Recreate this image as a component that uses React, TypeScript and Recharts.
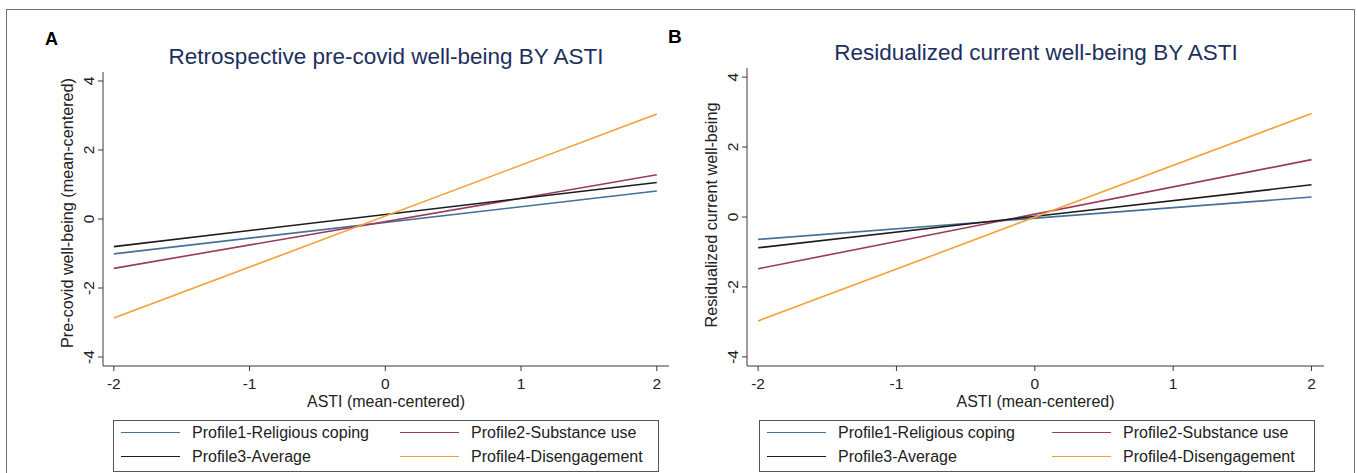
import React from 'react';
import { LineChart, Line, XAxis, YAxis } from 'recharts';

// x positions of the fitted lines (ASTI, mean-centered)
const astiValues = [-2, 2];
const xTicks = [-2, -1, 0, 1, 2];
const yTicks = [-4, -2, 0, 2, 4];

const profileNames = [
  'Profile1-Religious coping',
  'Profile2-Substance use',
  'Profile3-Average',
  'Profile4-Disengagement',
];
const profileKeys = ['p1', 'p2', 'p3', 'p4'];
const profileColors = ['#44709a', '#9a3a5c', '#1c1c1c', '#f5a035'];

// panel A: retrospective pre-covid well-being
const preProfile1 = [-1.01, 0.81];
const preProfile2 = [-1.43, 1.28];
const preProfile3 = [-0.8, 1.06];
const preProfile4 = [-2.87, 3.04];

// panel B: residualized current well-being
const resProfile1 = [-0.64, 0.57];
const resProfile2 = [-1.48, 1.64];
const resProfile3 = [-0.88, 0.92];
const resProfile4 = [-2.97, 2.96];

const buildRows = (series: number[][]) =>
  astiValues.map((x, i) => {
    const row: Record<string, number> = { x };
    profileKeys.forEach((k, j) => {
      row[k] = series[j][i];
    });
    return row;
  });

const rowsA = buildRows([preProfile1, preProfile2, preProfile3, preProfile4]);
const rowsB = buildRows([resProfile1, resProfile2, resProfile3, resProfile4]);

const FONT = '"Liberation Sans", Arial, sans-serif';
const AXIS = '#3a3a3a';

const YTick = (props: any) => {
  const { x, y, payload } = props;
  const bx = x - 2;
  return (
    <text
      x={bx}
      y={y}
      transform={`rotate(-90, ${bx}, ${y})`}
      textAnchor="middle"
      fontSize={15.5}
      fontFamily={FONT}
      fill="#222"
    >
      {payload.value}
    </text>
  );
};

const XTick = (props: any) => {
  const { x, y, payload } = props;
  return (
    <text x={x} y={y + 16} textAnchor="middle" fontSize={15.5} fontFamily={FONT} fill="#222">
      {payload.value}
    </text>
  );
};

interface PanelProps {
  left: number;
  width: number;
  margin: { top: number; right: number; bottom: number; left: number };
  rows: Record<string, number>[];
  yLabel: string;
  yLabelCenter: number;
}

const Panel = ({ left, width, margin, rows, yLabel, yLabelCenter }: PanelProps) => (
  <div style={{ position: 'absolute', left, top: 0 }}>
    <LineChart width={width} height={473} data={rows} margin={margin}>
      <XAxis
        dataKey="x"
        type="number"
        domain={[-2.08, 2.09]}
        ticks={xTicks}
        allowDataOverflow
        height={40}
        stroke={AXIS}
        tickSize={5}
        tick={<XTick />}
        label={(p: any) => {
          const vb = p.viewBox;
          return (
            <text
              x={vb.x + vb.width / 2}
              y={vb.y + 41}
              textAnchor="middle"
              fontSize={16.5}
              textLength={158}
              lengthAdjust="spacingAndGlyphs"
              fontFamily={FONT}
              fill="#222"
            >
              ASTI (mean-centered)
            </text>
          );
        }}
      />
      <YAxis
        type="number"
        domain={[-4.26, 4.26]}
        ticks={yTicks}
        allowDataOverflow
        width={60}
        stroke={AXIS}
        tickSize={5}
        tick={<YTick />}
        label={(p: any) => {
          const vb = p.viewBox;
          const cx = vb.x + vb.width - 30;
          const cy = yLabelCenter;
          return (
            <text
              x={cx}
              y={cy}
              transform={`rotate(-90, ${cx}, ${cy})`}
              textAnchor="middle"
              fontSize={16.2}
              fontFamily={FONT}
              fill="#222"
            >
              {yLabel}
            </text>
          );
        }}
      />
      {profileKeys.map((k, i) => (
        <Line
          key={k}
          type="linear"
          dataKey={k}
          stroke={profileColors[i]}
          strokeWidth={1.6}
          dot={false}
          isAnimationActive={false}
        />
      ))}
    </LineChart>
  </div>
);

const LegendBox = ({ left, width, col2 }: { left: number; width: number; col2: number }) => (
  <div
    style={{
      position: 'absolute',
      left,
      top: 420,
      width,
      height: 52,
      border: '1.5px solid #555',
      boxSizing: 'border-box',
      fontFamily: FONT,
      fontSize: 16,
      color: '#222',
    }}
  >
    {profileNames.map((name, i) => {
      const col = i % 2;
      const row = Math.floor(i / 2);
      const x0 = col === 0 ? 7 : col2;
      const yc = row === 0 ? 12 : 36;
      return (
        <React.Fragment key={name}>
          <div
            style={{
              position: 'absolute',
              left: x0,
              top: yc - 1,
              width: 59,
              height: 0,
              borderTop: `1.6px solid ${profileColors[i]}`,
            }}
          />
          <div style={{ position: 'absolute', left: x0 + 71, top: yc - 10, whiteSpace: 'nowrap', lineHeight: '20px' }}>
            {name}
          </div>
        </React.Fragment>
      );
    })}
  </div>
);

const textStyle: React.CSSProperties = { position: 'absolute', fontFamily: FONT, whiteSpace: 'nowrap', lineHeight: '26px' };

export default function App() {
  return (
    <div style={{ position: 'absolute', left: 0, top: 0, width: 1357, height: 473, overflow: 'hidden', background: '#fff' }}>
      <div
        style={{
          position: 'absolute',
          left: 6,
          top: 9,
          width: 1349,
          height: 520,
          border: '1.5px solid #707070',
          boxSizing: 'border-box',
        }}
      />
      <div style={{ ...textStyle, left: 45, top: 26, fontSize: 18, fontWeight: 'bold', color: '#000' }}>A</div>
      <div style={{ ...textStyle, left: 668, top: 24, fontSize: 19, fontWeight: 'bold', color: '#000' }}>B</div>
      <div style={{ ...textStyle, left: 386, top: 44, transform: 'translateX(-50%)', fontSize: 22.5, color: '#1e2f5c' }}>
        Retrospective pre-covid well-being BY ASTI
      </div>
      <div style={{ ...textStyle, left: 1036, top: 40, transform: 'translateX(-50%)', fontSize: 22.5, color: '#1e2f5c' }}>
        Residualized current well-being BY ASTI
      </div>
      <Panel
        left={0}
        width={680}
        margin={{ top: 72, right: 11, bottom: 67, left: 43 }}
        rows={rowsA}
        yLabel="Pre-covid well-being (mean-centered)"
        yLabelCenter={213}
      />
      <Panel
        left={680}
        width={677}
        margin={{ top: 68, right: 33, bottom: 67, left: 7 }}
        rows={rowsB}
        yLabel="Residualized current well-being"
        yLabelCenter={215}
      />
      <LegendBox left={113} width={546} col2={286} />
      <LegendBox left={759} width={556} col2={292} />
    </div>
  );
}
